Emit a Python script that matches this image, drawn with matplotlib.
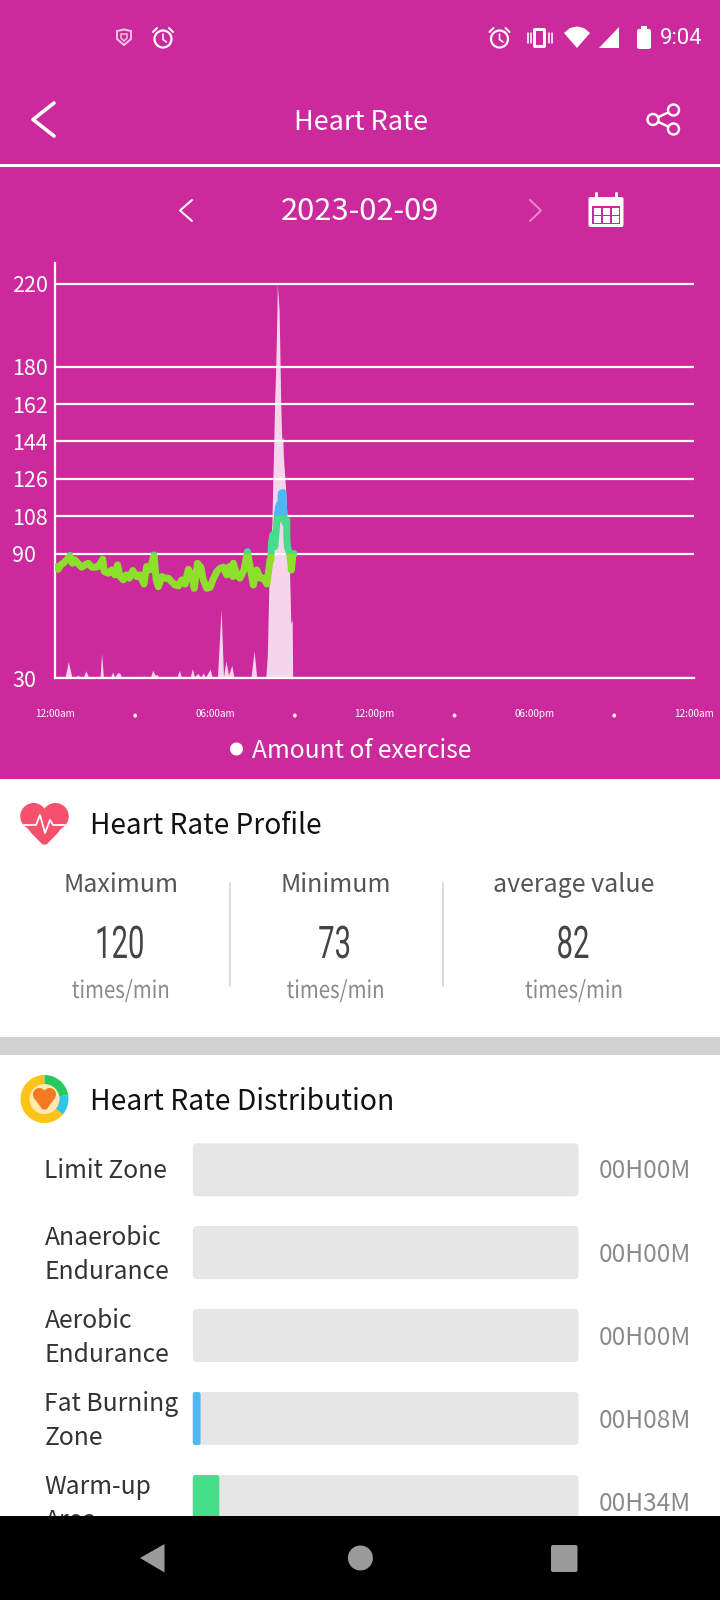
import numpy as np
import matplotlib
matplotlib.use('Agg')
import matplotlib.pyplot as plt
from matplotlib.patches import Rectangle, FancyBboxPatch, Circle, Ellipse, Polygon, Wedge
from matplotlib.patheffects import AbstractPathEffect, Normal
from matplotlib.transforms import Affine2D

plt.rcParams['font.family'] = ['Noto Sans CJK JP', 'DejaVu Sans']

# heart rate line
hr_hours = [0.01, 0.11, 0.20, 0.30, 0.43, 0.55, 0.64, 0.74, 0.87, 0.99, 1.12, 1.24, 1.37, 1.49, 1.62, 1.78, 1.84, 1.99,
            2.12, 2.24, 2.34, 2.43, 2.56, 2.66, 2.78, 2.91, 3.06, 3.18, 3.33, 3.43, 3.56, 3.71, 3.79, 3.87, 4.00, 4.12,
            4.25, 4.37, 4.50, 4.63, 4.75, 4.88, 5.00, 5.13, 5.22, 5.34, 5.47, 5.56, 5.69, 5.82, 5.92, 6.07, 6.19, 6.32,
            6.44, 6.54, 6.67, 6.69, 6.82, 6.94, 7.09, 7.22, 7.32, 7.44, 7.57, 7.70, 7.82, 7.95, 8.07,
            8.10, 8.12, 8.17, 8.25, 8.30, 8.35, 8.41, 8.45, 8.49, 8.55, 8.59, 8.64, 8.70, 8.70, 8.72, 8.80, 8.85, 8.87,
            8.92, 8.97]
hr_bpm = [83.7, 82.4, 84.5, 85.3, 86.9, 89.1, 85.3, 86.9, 85.0, 83.4, 84.5, 85.3, 83.4, 83.4, 83.7, 87.2, 81.3, 80.5,
          82.1, 79.7, 84.5, 78.9, 77.3, 79.7, 78.1, 81.8, 78.9, 79.7, 75.3, 83.7, 82.1, 89.3, 77.3, 74.0, 78.9, 78.1,
          78.1, 76.4, 74.8, 74.4, 77.3, 75.3, 82.4, 78.9, 73.2, 85.3, 83.4, 77.3, 73.2, 73.7, 77.3, 81.3, 82.9, 83.4,
          79.7, 83.7, 78.9, 85.3, 79.7, 78.1, 82.1, 90.9, 83.7, 74.8, 82.1, 78.1, 78.1, 75.3, 86.9,
          86.9, 94.9, 99.0, 93.3, 101.4, 109.4, 113.4, 107.0, 119.0, 119.4, 107.0, 104.6, 106.2, 98.0, 93.3, 90.0, 85.3, 82.0,
          88.5, 90.0]

# amount of exercise area
ex_hours = [0.36, 0.49, 0.62, 0.74, 0.84, 0.95, 1.05, 1.15, 1.24, 1.37, 1.68, 1.74, 1.81, 2.06, 2.16, 2.23, 2.34, 2.43, 2.50,
            3.25, 3.32, 3.41, 3.56, 3.66, 3.75, 3.84, 3.90, 4.56, 4.66, 4.75, 5.06, 5.15, 5.23, 5.35, 5.47, 5.56, 5.64, 5.82,
            5.90, 6.09, 6.23, 6.32, 6.41, 6.51, 6.63, 6.72, 7.35, 7.47, 7.57,
            7.91, 7.97, 8.01, 8.05, 8.14, 8.17, 8.21, 8.24, 8.28, 8.33, 8.34, 8.41, 8.45, 8.47, 8.51, 8.55, 8.57, 8.64, 8.70,
            8.76, 8.80, 8.85, 8.90, 8.92]
ex_values = [30, 37.9, 30.6, 30.3, 31.4, 30.3, 30.3, 33.5, 30.6, 30.3, 30, 42, 30, 30, 32.9, 30.3, 32.6, 32.2, 30,
             30, 31.1, 30, 30, 33.7, 31.4, 31.6, 30, 30, 33.7, 30, 30, 34.5, 30.6, 32.2, 30.3, 32.5, 30.3, 34.3,
             30, 30, 63.1, 30.6, 38.1, 31.4, 36.2, 30, 30, 43.2, 30,
             30, 41.9, 66, 88.5, 104.6, 123.9, 143.2, 162.4, 178.5, 207.4, 220, 207.4, 178.5, 162.4, 144.8, 146.4, 136.7, 123.9, 109.4,
             93.3, 82, 56.4, 58, 30]

y_ticks = [30, 90, 108, 126, 144, 162, 180, 220]
x_ticks = [0, 3, 6, 9, 12, 15, 18, 21, 24]
x_labels = ['12:00am', '•', '06:00am', '•', '12:00pm', '•', '06:00pm', '•', '12:00am']

stat_names = ['Maximum', 'Minimum', 'average value']
stat_values = ['120', '73', '82']
zone_names = ['Limit Zone', 'Anaerobic\nEndurance', 'Aerobic\nEndurance', 'Fat Burning\nZone', 'Warm-up\nArea']
zone_minutes = [0, 0, 0, 8, 34]
zone_labels = ['00H00M', '00H00M', '00H00M', '00H08M', '00H34M']
zone_colors = ['#4DB8F5', '#4DB8F5', '#4DB8F5', '#4DB8F5', '#45DF8A']

BG = '#CC299C'
W, H = 720, 1600


def pt(px):
    return px * 0.72


class Squeeze(AbstractPathEffect):
    # narrow a text horizontally around x (figure is drawn 1:1 in pixels)
    def __init__(self, x, sx):
        super().__init__()
        self.x = x
        self.sx = sx

    def draw_path(self, renderer, gc, tpath, affine, rgbFace=None):
        a = affine + Affine2D().translate(-self.x, 0).scale(self.sx, 1).translate(self.x, 0)
        renderer.draw_path(gc, tpath, a, rgbFace)


fig = plt.figure(figsize=(7.2, 16), dpi=100)
ui = fig.add_axes([0, 0, 1, 1])
ui.set_xlim(0, W)
ui.set_ylim(H, 0)
ui.axis('off')


def label(x, y, s, size, color='white', ha='center', dy=3.5, **kw):
    return ui.text(x, y + dy, s, fontsize=pt(size), color=color, ha=ha, va='center', **kw)


def rect(x0, y0, x1, y1, color, z=1):
    ui.add_patch(Rectangle((x0, y0), x1 - x0, y1 - y0, fc=color, ec='none', zorder=z))


def rrect(x0, y0, x1, y1, color, r=4, z=2):
    ui.add_patch(FancyBboxPatch((x0 + r, y0 + r), x1 - x0 - 2 * r, y1 - y0 - 2 * r, boxstyle=f'round,pad={r}',
                                fc=color, ec='none', zorder=z))


def stroke(xs, ys, color='white', px=2.0, z=3, **kw):
    ui.plot(xs, ys, color=color, lw=pt(px), zorder=z, solid_capstyle='round', solid_joinstyle='round', **kw)


def alarm(cx, cy, color='white'):
    ui.add_patch(Circle((cx, cy + 1), 8.5, fc='none', ec=color, lw=pt(2.2), zorder=3))
    stroke([cx, cx, cx + 3.5], [cy - 4, cy + 1.5, cy + 4], color, 1.6)
    stroke([cx - 10, cx - 6], [cy - 6, cy - 10], color, 2)
    stroke([cx + 10, cx + 6], [cy - 6, cy - 10], color, 2)


def heart(cx, top, w, h, color, z=3):
    r = w * 0.275
    for sign in [-1, 1]:
        ui.add_patch(Circle((cx + sign * (w / 2 - r), top + r), r, fc=color, ec='none', zorder=z))
    pts = [(cx - w / 2 + 0.5, top + r + 3), (cx - w * 0.27, top + h * 0.72), (cx - 2, top + h - 0.5), (cx + 2, top + h - 0.5),
           (cx + w * 0.27, top + h * 0.72), (cx + w / 2 - 0.5, top + r + 3), (cx, top + r - 3)]
    ui.add_patch(Polygon(pts, closed=True, fc=color, ec='none', zorder=z))


# backgrounds
rect(0, 0, W, 779, BG)
rect(0, 779, W, H, 'white')
rect(0, 164, W, 166.5, 'white')

# status bar
ui.add_patch(Polygon([(117, 31), (124, 29.5), (131, 31), (131, 39), (124, 45), (117, 39)], closed=True,
                     fc='none', ec='#F3C3E4', lw=pt(2), zorder=3))
ui.add_patch(Polygon([(121, 34), (127, 34), (127, 38), (124, 41), (121, 38)], closed=True,
                     fc='none', ec='#F3C3E4', lw=pt(1.5), zorder=3))
alarm(163, 38)
alarm(499.5, 38)
rrect(533, 28, 546, 48, 'white', r=2, z=3)
rect(536, 31, 543, 45, BG, z=4)
for vx in [527.5, 530.5, 548.5, 551.5]:
    stroke([vx, vx], [33, 43], 'white', 1.6)
ui.add_patch(Polygon([(564, 33), (570, 28), (577, 26.5), (584, 28), (590, 33), (577, 48)], closed=True, fc='white', ec='none', zorder=3))
ui.add_patch(Polygon([(599, 48), (619, 48), (619, 27)], closed=True, fc='white', ec='none', zorder=3))
rrect(637, 29, 651, 49, 'white', r=2, z=3)
rect(641, 26, 647, 30, 'white', z=3)
label(681, 38, '9:04', 22, dy=0, family=['Roboto', 'DejaVu Sans'])

# header
stroke([54, 33, 54], [103, 119.5, 136], 'white', 3.6)
label(361, 119, 'Heart Rate', 27)
stroke([673.5, 653, 673.5], [110, 119.5, 129], 'white', 2.4)
for sx, sy in [(673.5, 110), (653, 119.5), (673.5, 129)]:
    ui.add_patch(Circle((sx, sy), 5.5, fc=BG, ec='white', lw=pt(2.4), zorder=4))

# date row
stroke([192, 180, 192], [200, 210.5, 221], 'white', 2)
label(360, 208.5, '2023-02-09', 31)
stroke([530, 541, 530], [200, 210.5, 221], '#E58BCB', 2)
rrect(588.5, 197, 623.5, 227, 'white', r=2, z=3)
stroke([596, 596], [193, 200], 'white', 3, z=3)
stroke([616, 616], [193, 200], 'white', 3, z=3)
rect(592, 206, 620, 224, BG, z=4)
for cy in [208, 216]:
    for cx in [594, 603, 612]:
        rect(cx, cy, cx + 7, cy + 6.5, 'white', z=5)

# chart
ax = fig.add_axes([55.3 / W, 1 - 678 / H, (694 - 55.3) / W, (678 - 263) / H])
ax.patch.set_alpha(0)
ax.set_xlim(0, 24)
ax.set_ylim(30, 230)
ax.fill_between(ex_hours, 30, ex_values, color='#F6D5EC', lw=0, zorder=1)
ax.set_axisbelow(False)
ax.grid(axis='y', color='white', lw=pt(2.2))
for lo, hi, c in [(30, 90, '#8CE02B'), (90, 108, '#45DC8C'), (108, 230, '#4DB8F5')]:
    line, = ax.plot(hr_hours, hr_bpm, color=c, lw=pt(7), zorder=3, solid_joinstyle='round', solid_capstyle='round')
    line.set_clip_path(Rectangle((0, lo), 24, hi - lo, transform=ax.transData))
for side in ['top', 'right']:
    ax.spines[side].set_visible(False)
for side in ['left', 'bottom']:
    ax.spines[side].set_color('white')
    ax.spines[side].set_linewidth(pt(2.2))
ax.set_yticks(y_ticks)
ax.set_yticklabels([str(v) for v in y_ticks], fontsize=pt(21.5), color='white', ha='left')
ax.tick_params(axis='y', length=0, pad=pt(43))
ax.set_xticks(x_ticks)
ax.set_xticklabels(x_labels, fontsize=pt(10), color='white')
ax.tick_params(axis='x', length=0, pad=pt(31))
for lab in ax.get_xticklabels():
    if lab.get_text() == '•':
        lab.set_fontsize(pt(15))
        lab.set_path_effects([Normal(offset=(0, 1.7))])

# legend
ui.add_patch(Circle((236.5, 749), 6.5, fc='white', ec='none', zorder=3))
label(362, 747.5, 'Amount of exercise', 24.7)

# profile section
heart(44.5, 803, 48.5, 42, '#F6506C')
stroke([24, 36, 40, 45, 50, 53, 65], [825, 825, 815, 833, 820, 825, 825], 'white', 1.8, z=4)
label(89.5, 822, 'Heart Rate Profile', 28, color='#111111', ha='left')

stat_x = [120.8, 335.6, 574]
for sx, name, value in zip(stat_x, stat_names, stat_values):
    label(sx, 882, name, 25, color='#555555')
    label(sx - 1, 946, value, 45, color='#444444', dy=0, family=['Roboto', 'DejaVu Sans'], path_effects=[Squeeze(sx - 1, 0.65)])
    label(sx, 988, 'times/min', 24, color='#8A8A8A', path_effects=[Squeeze(sx, 0.85)])
for dx in [230, 443]:
    stroke([dx, dx], [883, 986], '#D6D6D6', 1.8)
rect(0, 1037, W, 1055, '#D2D2D2')

# distribution section
ui.add_patch(Wedge((44.5, 1099), 24, 40, 270, width=10, fc='#FCC419', ec='none', zorder=3))
ui.add_patch(Wedge((44.5, 1099), 24, 270, 350, width=10, fc='#27C95A', ec='none', zorder=3))
ui.add_patch(Wedge((44.5, 1099), 24, 350, 40, width=10, fc='#2FC6E8', ec='none', zorder=3))
ui.add_patch(Circle((44.5, 1099), 15, fc='#FFE9B0', ec='none', zorder=3))
heart(44.5, 1088, 23, 22, '#F47A22', z=4)
label(89.5, 1099, 'Heart Rate Distribution', 28.3, color='#111111', ha='left')

row_y = [1143.3, 1226, 1309, 1392, 1475]
px_per_min = 0.72
for i, (y0, name, minutes, text, c) in enumerate(zip(row_y, zone_names, zone_minutes, zone_labels, zone_colors)):
    rrect(192.8, y0, 578.5, y0 + 53, '#E6E6E6')
    if minutes > 0:
        rrect(192.8, y0, 192.8 + minutes * px_per_min + 2, y0 + 53, c, r=2.5, z=3)
    shift = 0 if i == 0 else 1.5
    label(44.5, y0 + 24 + shift, name, 24.7, color='#333333', ha='left', linespacing=1.42)
    label(644.6, y0 + 24 + shift, text, 24.5, color='#8A8A8A')

# nav bar
rect(0, 1516, W, H, 'black', z=10)
ui.add_patch(Polygon([(140, 1558), (164.5, 1544), (164.5, 1572.5)], closed=True, fc='#9A9A9A', ec='none', zorder=11))
ui.add_patch(Ellipse((360.4, 1558), 25, 25, fc='#9A9A9A', ec='none', zorder=11))
rrect(551, 1545, 577.5, 1572, '#9A9A9A', r=2, z=11)

fig.savefig('out.png', dpi=100)
